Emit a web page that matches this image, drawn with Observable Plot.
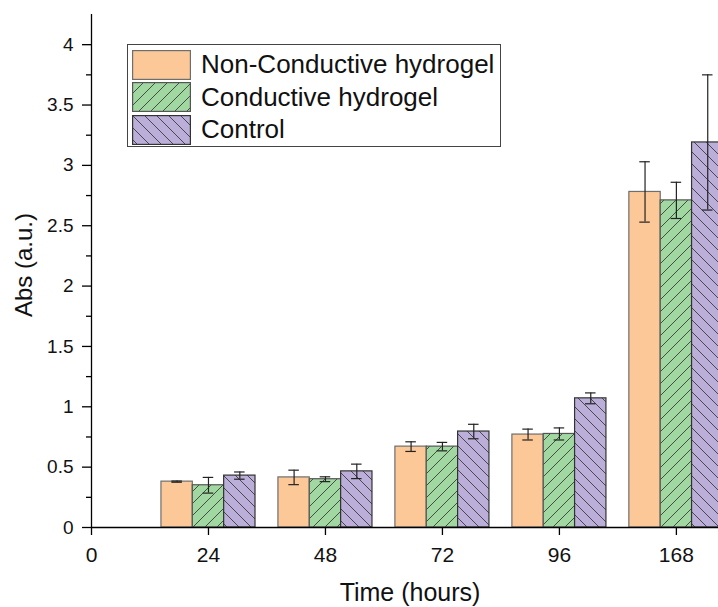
<!DOCTYPE html>
<html>
<head>
<meta charset="utf-8">
<script src="https://cdn.jsdelivr.net/npm/d3@7"></script>
<script src="https://cdn.jsdelivr.net/npm/@observablehq/plot@0.6"></script>
<style>
  html, body { margin: 0; padding: 0; background: #fff; overflow: hidden; }
  #wrap { position: relative; width: 718px; height: 607px; font-family: "Liberation Sans", Arial, sans-serif; }
  #legend {
    position: absolute; left: 127px; top: 44px; width: 372px; height: 101px;
    border: 1px solid #444; background: #fff; box-sizing: content-box;
  }
  .row { position: absolute; left: 4px; height: 29px; display: flex; align-items: center; }
  .row svg { display: block; margin-right: 10px; }
  .row span { font-size: 26px; color: #111; line-height: 29px; white-space: nowrap; }
</style>
</head>
<body>
<!-- hatch fills shared by the bars and the legend swatches -->
<svg width="0" height="0" style="position:absolute">
  <defs>
    <pattern id="hatch-fwd" patternUnits="userSpaceOnUse" width="12" height="12">
      <rect width="12" height="12" fill="#A1D8A1"></rect>
      <path d="M0,12 L12,0 M-2,2 L2,-2 M10,14 L14,10" stroke="#2b2b2b" stroke-width="0.8"></path>
    </pattern>
    <pattern id="hatch-back" patternUnits="userSpaceOnUse" width="12" height="12">
      <rect width="12" height="12" fill="#BBAFD9"></rect>
      <path d="M0,0 L12,12 M-2,10 L2,14 M10,-2 L14,2" stroke="#2b2b2b" stroke-width="0.8"></path>
    </pattern>
  </defs>
</svg>
<div id="wrap"></div>
<script>
// Cell viability (absorbance) over time for three conditions
const tickLabels = ["0", "24", "48", "72", "96", "168"];
const times = ["24", "48", "72", "96", "168"];
const seriesNames = ["Non-Conductive hydrogel", "Conductive hydrogel", "Control"];

const nonConductive    = [0.38, 0.415, 0.67, 0.77, 2.78];
const nonConductiveErr = [0.005, 0.06, 0.04, 0.045, 0.25];
const conductive       = [0.35, 0.40, 0.67, 0.775, 2.71];
const conductiveErr    = [0.065, 0.02, 0.035, 0.05, 0.15];
const control          = [0.43, 0.465, 0.795, 1.07, 3.19];
const controlErr       = [0.03, 0.06, 0.06, 0.045, 0.56];

const yTicks = [0, 0.5, 1, 1.5, 2, 2.5, 3, 3.5, 4];
const yMinorTicks = [0.25, 0.75, 1.25, 1.75, 2.25, 2.75, 3.25, 3.75];

const seriesFill = ["#FDC897", "url(#hatch-fwd)", "url(#hatch-back)"];
const seriesStroke = ["#6e6e6e", "#555", "#333"];

// long table: one row per bar; group index i+1 sits on the ordinal tick
const barWidth = 0.268;
const values = [nonConductive, conductive, control];
const errors = [nonConductiveErr, conductiveErr, controlErr];
const rows = [];
seriesNames.forEach((s, k) => {
  times.forEach((t, i) => {
    const x1 = i + 1 + (k - 1.5) * barWidth;
    rows.push({
      series: s, k, time: t,
      value: values[k][i], err: errors[k][i],
      x1, x2: x1 + barWidth, xc: x1 + barWidth / 2
    });
  });
});

const cap = 0.045;

const chart = Plot.plot({
  width: 718,
  height: 607,
  marginLeft: 91,
  marginRight: 0,
  marginTop: 14,
  marginBottom: 80,
  style: { fontFamily: "Liberation Sans, Arial, sans-serif", fontSize: "20px", color: "#111", background: "#fff" },
  x: { domain: [0, 5.36], axis: null },
  y: { domain: [0, 4.25], axis: null },
  marks: [
    ...seriesNames.map((s, k) =>
      Plot.rectY(rows.filter(d => d.k === k), {
        x1: "x1", x2: "x2", y1: 0, y2: "value",
        fill: seriesFill[k], stroke: seriesStroke[k], strokeWidth: 1.2, clip: true
      })
    ),
    // error bars
    Plot.ruleX(rows, { x: "xc", y1: d => d.value - d.err, y2: d => d.value + d.err, stroke: "#222", strokeWidth: 1.2, clip: true }),
    Plot.ruleY(rows, { y: d => d.value + d.err, x1: d => d.xc - cap, x2: d => d.xc + cap, stroke: "#222", strokeWidth: 1.2, clip: true }),
    Plot.ruleY(rows, { y: d => d.value - d.err, x1: d => d.xc - cap, x2: d => d.xc + cap, stroke: "#222", strokeWidth: 1.2, clip: true }),
    // axis lines
    Plot.ruleX([0], { stroke: "#000", strokeWidth: 1.3 }),
    Plot.ruleY([0], { stroke: "#000", strokeWidth: 1.3 }),
    // x axis: ordinal time points
    Plot.axisX({
      ticks: d3.range(tickLabels.length),
      tickFormat: i => tickLabels[i], label: null,
      tickSize: 8, tickPadding: 12, fontSize: 21, stroke: "#000", strokeWidth: 1.3
    }),
    // y axis: labelled major ticks plus minor ticks
    Plot.axisY({
      ticks: yTicks, tickFormat: d => String(d), label: null,
      tickSize: 9, tickPadding: 9, fontSize: 19, stroke: "#000", strokeWidth: 1.3
    }),
    Plot.axisY({
      ticks: yMinorTicks, tickFormat: () => "", label: null,
      tickSize: 5, stroke: "#000", strokeWidth: 1.3
    }),
    // axis titles
    Plot.text(["Abs (a.u.)"], { frameAnchor: "left", textAnchor: "middle", lineAnchor: "middle", rotate: -90, dx: -67, dy: -6, fontSize: 24, fill: "#111" }),
    Plot.text(["Time (hours)"], { frameAnchor: "bottom", textAnchor: "middle", lineAnchor: "middle", dx: 5, dy: 65, fontSize: 25, fill: "#111" })
  ]
});

const wrap = document.getElementById("wrap");
wrap.appendChild(chart);

// legend box inside the plot area
const legend = document.createElement("div");
legend.id = "legend";
seriesNames.forEach((s, k) => {
  const row = document.createElement("div");
  row.className = "row";
  row.style.top = (5 + k * 32.5) + "px";
  row.innerHTML =
    `<svg width="59" height="30"><rect x="0.6" y="0.6" width="57.8" height="28.8" fill="${seriesFill[k]}" stroke="${seriesStroke[k]}" stroke-width="1.2"></rect></svg>` +
    `<span>${s}</span>`;
  legend.appendChild(row);
});
wrap.appendChild(legend);
</script>
</body>
</html>
